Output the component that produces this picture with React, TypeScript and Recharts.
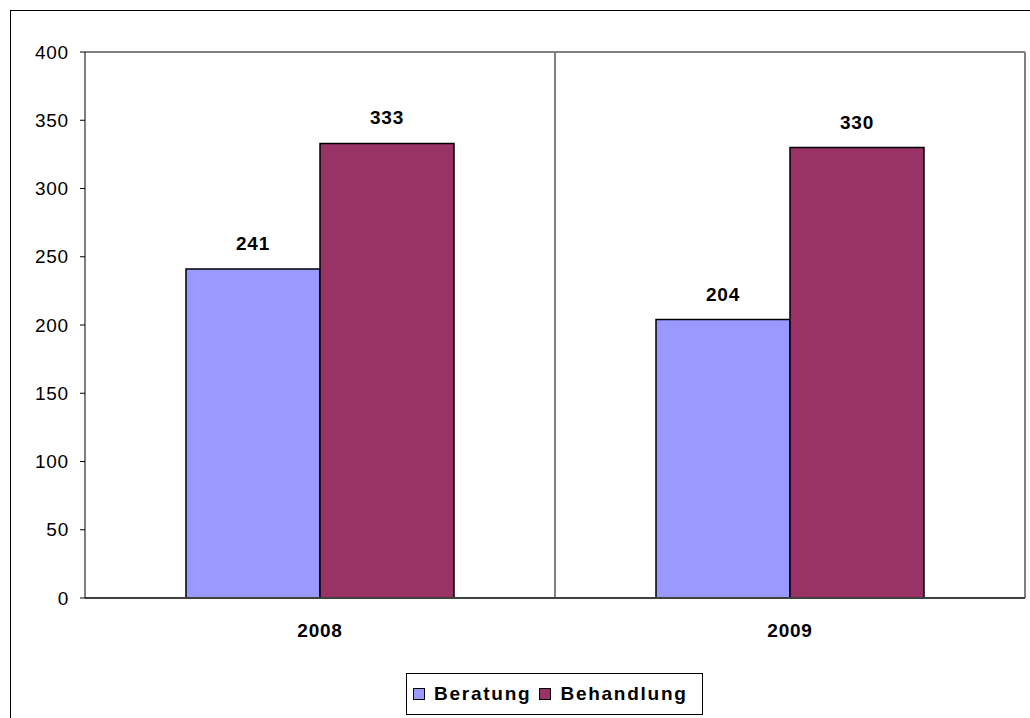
import { Bar, BarChart, CartesianGrid, LabelList, Legend, ReferenceLine, XAxis, YAxis } from 'recharts';

const years = ['2008', '2009'];
const beratung = [241, 204];
const behandlung = [333, 330];
const yTicks = [0, 50, 100, 150, 200, 250, 300, 350, 400];

const series = [
  { key: 'Beratung', color: '#9999FF', values: beratung },
  { key: 'Behandlung', color: '#993366', values: behandlung },
];

const data = years.map((year, i) => ({ year, Beratung: beratung[i], Behandlung: behandlung[i] }));

const font = '"Liberation Sans", Arial, sans-serif';

function LegendBox() {
  return (
    <div
      style={{
        border: '1px solid #000',
        background: '#fff',
        width: 297,
        height: 42,
        boxSizing: 'border-box',
        display: 'flex',
        alignItems: 'center',
        paddingLeft: 6,
        fontFamily: font,
        fontWeight: 'bold',
        fontSize: 19,
        letterSpacing: 1.75,
        color: '#000',
      }}
    >
      {series.map((s) => (
        <span key={s.key} style={{ display: 'flex', alignItems: 'center', marginRight: 8 }}>
          <span
            style={{
              display: 'inline-block',
              width: 10,
              height: 10,
              background: s.color,
              border: '1px solid #000',
              marginRight: 9,
            }}
          />
          {s.key}
        </span>
      ))}
    </div>
  );
}

export default function App() {
  return (
    <div style={{ position: 'absolute', left: 0, top: 0, width: 1030, height: 718, overflow: 'hidden', background: '#fff' }}>
      <div
        style={{
          position: 'absolute',
          left: 10,
          top: 10,
          width: 1100,
          height: 800,
          border: '1px solid #000',
        }}
      />
      <div style={{ position: 'absolute', left: 0, top: 0 }}>
        <BarChart
          width={1030}
          height={718}
          data={data}
          margin={{ top: 52, right: 5, left: 10, bottom: 90 }}
          barCategoryGap={101}
          barGap={0}
        >
          <CartesianGrid
            horizontal={false}
            stroke="#000"
            strokeWidth={1}
            verticalCoordinatesGenerator={({ offset }: any) => [offset.left + offset.width / 2]}
          />
          <CartesianGrid
            vertical={true}
            horizontal={true}
            stroke="#808080"
            strokeWidth={2}
            horizontalCoordinatesGenerator={({ offset }: any) => [offset.top]}
            verticalCoordinatesGenerator={({ offset }: any) => [offset.left + offset.width]}
          />
          <XAxis
            dataKey="year"
            axisLine={{ stroke: '#404040', strokeWidth: 2 }}
            tickLine={false}
            tickSize={0}
            tickMargin={26}
            height={30}
            tick={{ fill: '#000', fontSize: 19, fontWeight: 'bold', fontFamily: font, letterSpacing: 0.8 }}
          />
          <YAxis
            domain={[0, 400]}
            ticks={yTicks}
            width={75}
            axisLine={{ stroke: '#000', strokeWidth: 1 }}
            tickLine={{ stroke: '#000' }}
            tickSize={5}
            tickMargin={11}
            interval={0}
            tick={{ fill: '#000', fontSize: 19, fontFamily: font, letterSpacing: 0.8 }}
          />
          <ReferenceLine y={0} stroke="#404040" strokeWidth={2} />
          {series.map((s) => (
            <Bar key={s.key} dataKey={s.key} fill={s.color} stroke="#000" strokeWidth={1.5} isAnimationActive={false}>
              <LabelList
                dataKey={s.key}
                position="top"
                offset={19}
                style={{ fill: '#000', fontSize: 19, fontWeight: 'bold', fontFamily: font, letterSpacing: 0.8 }}
              />
            </Bar>
          ))}
          <Legend
            layout="horizontal"
            verticalAlign="middle"
            align="center"
            wrapperStyle={{ position: 'absolute', left: 406, top: 673, width: 'auto' }}
            content={() => <LegendBox />}
          />
        </BarChart>
      </div>
    </div>
  );
}
